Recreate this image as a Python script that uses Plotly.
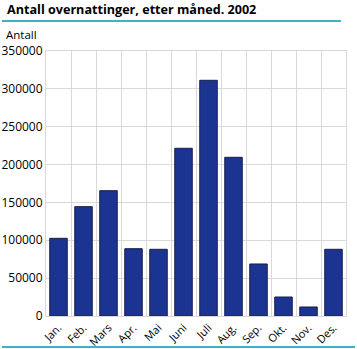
import plotly.graph_objects as go

months = ["Jan.", "Feb.", "Mars", "Apr.", "Mai", "Juni", "Juli", "Aug.", "Sep.", "Okt.", "Nov.", "Des."]
values = [102600, 144400, 165500, 88900, 88100, 221500, 311300, 209600, 68700, 25100, 11900, 88100]
y_ticks = [0, 50000, 100000, 150000, 200000, 250000, 300000, 350000]

W, H = 357, 349
L, R, T, B = 46, 11, 51, 33
pw, ph = W - L - R, H - T - B

def px_x(x):
    return (x - L) / pw

def px_y(y):
    return (H - B - y) / ph

fig = go.Figure(go.Bar(
    x=months, y=values,
    marker=dict(color="#1b3391", line=dict(color="#1a1f4a", width=1)),
))

teal = "#3cb4c0"
fig.add_shape(type="line", xref="paper", yref="paper",
              x0=px_x(2), x1=px_x(341), y0=px_y(21), y1=px_y(21),
              line=dict(color=teal, width=2))
fig.add_shape(type="line", xref="paper", yref="paper",
              x0=px_x(2), x1=px_x(355), y0=px_y(347), y1=px_y(347),
              line=dict(color=teal, width=2))

fig.add_annotation(text="Antall", xref="paper", yref="paper",
                   x=px_x(4), y=px_y(34), xanchor="left", yanchor="middle",
                   showarrow=False, font=dict(size=11.5, color="#000"))

fig.update_layout(
    width=W, height=H,
    margin=dict(l=L, r=R, t=T, b=B, autoexpand=False),
    paper_bgcolor="white", plot_bgcolor="white",
    font=dict(family="Open Sans", color="#000"),
    title=dict(text="<b>Antall overnattinger, etter måned. 2002</b>",
               xref="container", yref="container",
               x=7 / W, y=1 - 10 / H, xanchor="left", yanchor="middle",
               font=dict(size=12.6, color="#000")),
    bargap=0.3,
    showlegend=False,
    xaxis=dict(
        type="category", tickson="boundaries", automargin=False,
        showgrid=True, gridcolor="#d9d9d9", gridwidth=1,
        showline=True, linecolor="#d9d9d9", mirror=True,
        ticks="", tickangle=-45, tickfont=dict(size=11),
    ),
    yaxis=dict(
        range=[0, 350000], tickvals=y_ticks, automargin=False,
        ticktext=[str(v) for v in y_ticks],
        showgrid=True, gridcolor="#d9d9d9", gridwidth=1,
        showline=True, linecolor="#d9d9d9", mirror=True,
        zeroline=False, ticks="", tickfont=dict(size=12),
    ),
)

fig.write_html("out.html")
